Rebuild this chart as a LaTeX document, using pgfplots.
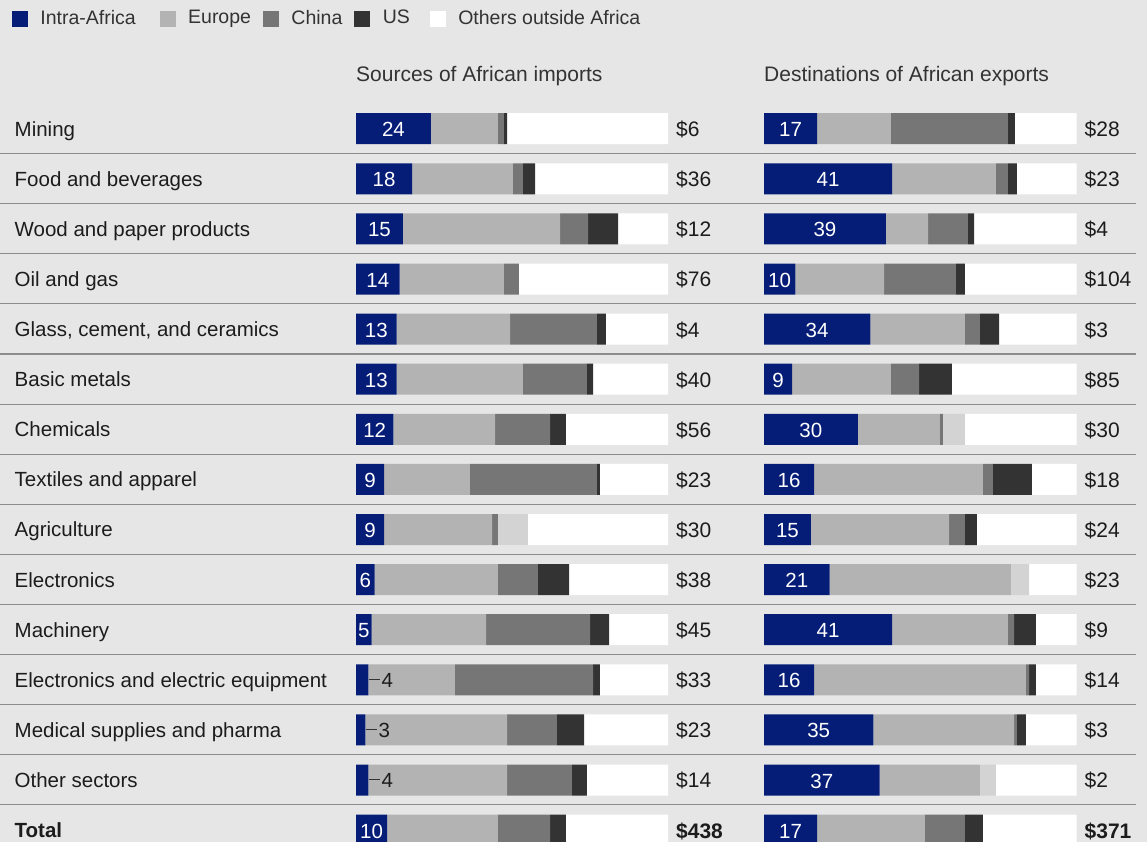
\documentclass[border=0pt]{standalone}
\usepackage{fontspec}
\setmainfont{Liberation Sans}
\usepackage{pgfplots}
\pgfplotsset{compat=1.18}
\usepackage{pgfplotstable}

\definecolor{bgc}{RGB}{230,230,230}
\definecolor{intra}{RGB}{5,29,118}
\definecolor{europe}{RGB}{179,179,179}
\definecolor{china}{RGB}{118,118,118}
\definecolor{usc}{RGB}{51,51,51}
\definecolor{lightseg}{RGB}{211,211,211}
\definecolor{sepc}{RGB}{140,140,140}
\definecolor{txt}{RGB}{28,28,28}
\definecolor{txtb}{RGB}{51,51,51}

% shares in %, V = trade value ($ billion)
\pgfplotstableread{
idx B E C U L O V
0 24 21.5 1.9 1.0 0 51.6 \$6
1 18 32.3 3.2 3.9 0 42.6 \$36
2 15 50.4 9.0 9.6 0 16.0 \$12
3 14 33.4 4.8 0 0 47.8 \$76
4 13 36.4 27.8 2.9 0 19.9 \$4
5 13 40.5 20.5 2.0 0 24.0 \$40
6 12 32.6 17.6 5.1 0 32.7 \$56
7 9 27.5 40.7 1.0 0 21.8 \$23
8 9 34.6 1.9 0 9.6 44.9 \$30
9 6 39.5 12.8 10.0 0 31.7 \$38
10 5 36.7 33.3 6.1 0 18.9 \$45
11 4 27.7 44.3 2.2 0 21.8 \$33
12 3 45.4 16.0 8.7 0 26.9 \$23
13 4 44.4 20.8 4.8 0 26.0 \$14
14 10 35.5 16.7 5.1 0 32.7 \textbf{\$438}
}\imports

\pgfplotstableread{
idx B E C U L O V
0 17 23.6 37.4 2.3 0 19.7 \$28
1 41 33.2 3.8 2.9 0 19.1 \$23
2 39 13.5 12.7 2.0 0 32.8 \$4
3 10 28.4 23.0 2.9 0 35.7 \$104
4 34 30.3 4.8 6.1 0 24.8 \$3
5 9 31.6 9.0 10.5 0 39.9 \$85
6 30 26.3 0.9 0 7.1 35.7 \$30
7 16 54.0 3.2 12.5 0 14.3 \$18
8 15 44.2 5.1 3.8 0 31.9 \$24
9 21 58.0 0 0 5.8 15.2 \$23
10 41 37.0 2.0 7.0 0 13.0 \$9
11 16 67.8 1.0 2.2 0 13.0 \$14
12 35 45.0 0.9 2.9 0 16.2 \$3
13 37 32.1 0 0 5.1 25.8 \$2
14 17 34.5 12.8 5.7 0 30.0 \textbf{\$371}
}\exports

\pgfplotsset{
  /pgf/number format/assume math mode=true,
  panel/.style={
    scale only axis, width=312pt, height=751.5pt,
    xmin=0, xmax=100, ymin=-0.5, ymax=14.5, y dir=reverse,
    axis line style={draw=none}, tick style={draw=none},
    xtick=\empty, ytick=\empty, clip=false, anchor=north west,
    title style={at={(0,1)}, anchor=base west, yshift=16.6pt, inner sep=0pt,
      text=txtb, font=\fontsize{21}{24}\selectfont},
  },
  seg/.style={fill=#1, draw=none},
  sq/.style={legend image code/.code={\fill[#1] (0pt,-7.5pt) rectangle (15pt,7.5pt);}},
  inlab/.style={draw=none, mark=none, nodes near coords, point meta=explicit,
    restrict x to domain=2.4:60,
    every node near coord/.append style={anchor=center, yshift=-1pt, text=white, inner sep=0pt}},
  outlab/.style={draw=none, mark=none, point meta=explicit,
    restrict x to domain=0:4.6,
    nodes near coords={\textcolor{usc}{\rule[0.36em]{11pt}{0.8pt}}\hspace{2pt}\pgfmathprintnumber{\pgfplotspointmeta}},
    every node near coord/.append style={anchor=mid west, yshift=-2pt, text=txt, inner sep=0pt}},
  vallab/.style={draw=none, mark=none, nodes near coords, point meta=explicit symbolic,
    every node near coord/.append style={anchor=mid west, xshift=8pt, yshift=-2.5pt,
      text=txt, inner sep=0pt, font=\fontsize{21}{24}\selectfont}},
}

\begin{document}
\fontsize{20.5}{24}\selectfont
\begin{tikzpicture}
\path[use as bounding box] (0,0) rectangle (1147pt,-842pt);
\fill[bgc] (0,0) rectangle (1147pt,-842pt);
\foreach \k in {0,...,13}{
  \pgfmathsetmacro\yy{153.6+50.1*\k}
  \draw[sepc, line width=1.1pt] (0pt,-\yy pt) -- (1136pt,-\yy pt);
}

% imports: bars
\begin{axis}[panel, at={(356pt,-103.65pt)}, xbar stacked, bar width=31pt,
  ytick={0,...,14},
  yticklabels={Mining, Food and beverages, Wood and paper products, Oil and gas,
    {Glass, cement, and ceramics}, Basic metals, Chemicals, Textiles and apparel,
    Agriculture, Electronics, Machinery, Electronics and electric equipment,
    Medical supplies and pharma, Other sectors, \textbf{Total}},
  yticklabel style={anchor=mid west, xshift=-341.5pt, yshift=-2pt, inner sep=0pt, text=txt},
  title={Sources of African imports},
]
\addplot[seg=intra] table[x=B, y=idx] {\imports};
\addplot[seg=europe] table[x=E, y=idx] {\imports};
\addplot[seg=china] table[x=C, y=idx] {\imports};
\addplot[seg=usc] table[x=U, y=idx] {\imports};
\addplot[seg=lightseg] table[x=L, y=idx] {\imports};
\addplot[seg=white] table[x=O, y=idx] {\imports};
\end{axis}

% imports: labels and legend
\begin{axis}[panel, at={(356pt,-103.65pt)},
  legend columns=5, legend cell align=left,
  legend entries={Intra-Africa\vphantom{Ap}, Europe\vphantom{Ap}, China\vphantom{Ap},
    US\vphantom{Ap}, Others outside Africa\vphantom{Ap}},
  legend style={at={(-1.10256,1.1246)}, anchor=north west, draw=none, fill=none,
    inner sep=0pt, outer sep=0pt, column sep=0pt, text=txtb,
    font=\fontsize{19.5}{23}\selectfont, nodes={inner sep=0pt},
    /tikz/every odd column/.append style={column sep=13pt},
    /tikz/column 2/.append style={column sep=24pt},
    /tikz/column 4/.append style={column sep=12pt},
    /tikz/column 6/.append style={column sep=12pt},
    /tikz/column 8/.append style={column sep=20pt}},
]
\addlegendimage{sq=intra}
\addlegendimage{sq=europe}
\addlegendimage{sq=china}
\addlegendimage{sq=usc}
\addlegendimage{sq=white}
\addplot[inlab] table[x expr=\thisrow{B}/2, y=idx, meta=B] {\imports};
\addplot[outlab] table[x=B, y=idx, meta=B] {\imports};
\addplot[vallab] table[x expr=100, y=idx, meta=V] {\imports};
\end{axis}

% exports: bars
\begin{axis}[panel, width=312.5pt, at={(764pt,-103.65pt)}, xbar stacked, bar width=31pt,
  title={Destinations of African exports},
]
\addplot[seg=intra] table[x=B, y=idx] {\exports};
\addplot[seg=europe] table[x=E, y=idx] {\exports};
\addplot[seg=china] table[x=C, y=idx] {\exports};
\addplot[seg=usc] table[x=U, y=idx] {\exports};
\addplot[seg=lightseg] table[x=L, y=idx] {\exports};
\addplot[seg=white] table[x=O, y=idx] {\exports};
\end{axis}

% exports: labels
\begin{axis}[panel, width=312.5pt, at={(764pt,-103.65pt)}]
\addplot[inlab] table[x expr=\thisrow{B}/2, y=idx, meta=B] {\exports};
\addplot[vallab] table[x expr=100, y=idx, meta=V] {\exports};
\end{axis}
\end{tikzpicture}
\end{document}
